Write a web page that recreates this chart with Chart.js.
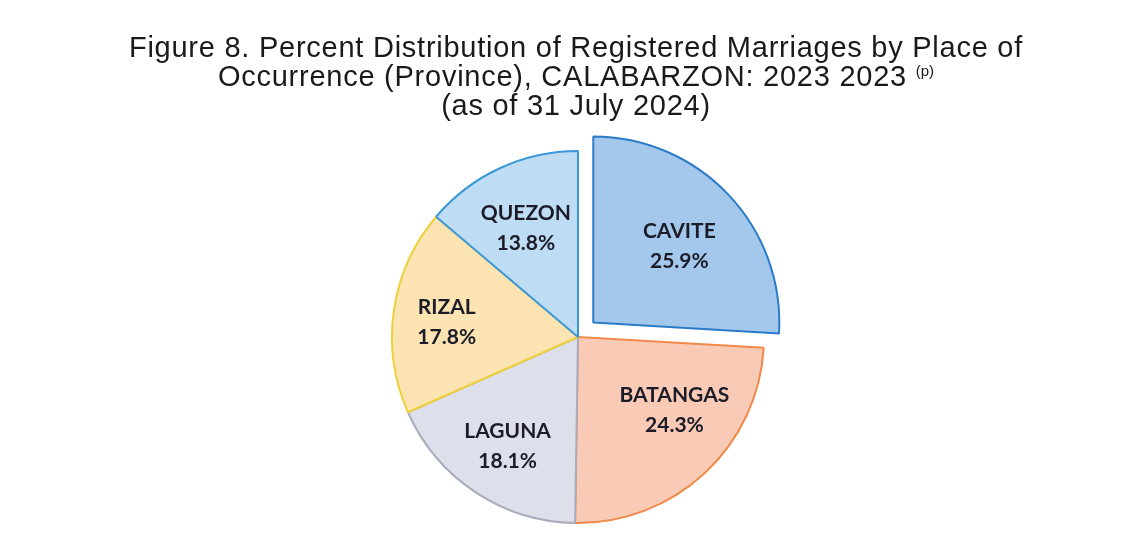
<!DOCTYPE html>
<html>
<head>
<meta charset="utf-8">
<script src="https://cdn.jsdelivr.net/npm/chart.js@4.4.1/dist/chart.umd.min.js"></script>
<style>
  body { margin: 0; background: #fff; }
  #wrap { position: relative; width: 1132px; height: 533px; }
  #titulo {
    position: absolute; left: 0; top: 33px; width: 1152px;
    text-align: center; font-family: "Liberation Sans", Arial, sans-serif;
    font-size: 29px; line-height: 29px; letter-spacing: 0.75px; color: #1a1a1a;
  }
  #titulo sup { font-size: 15px; vertical-align: 10px; line-height: 0; letter-spacing: 0; }
  canvas { position: absolute; left: 0; top: 0; }
</style>
</head>
<body>
<div id="wrap">
  <canvas id="grafico" width="1132" height="533"></canvas>
  <div id="titulo">
    Figure 8. Percent Distribution of Registered Marriages by Place of<br>
    Occurrence (Province), CALABARZON: 2023 2023 <sup>(p)</sup><br>
    (as of 31 July 2024)
  </div>
</div>
<script>
const provincias = ["CAVITE", "BATANGAS", "LAGUNA", "RIZAL", "QUEZON"];
const percentuais = [25.9, 24.3, 18.1, 17.8, 13.8];

const cores = ["#a3c8ec", "#f9cbb6", "#dde0ea", "#fbe3b2", "#bfdcf5"];
const bordas = ["#2a7bc8", "#f0894a", "#a9acbc", "#f0cf3c", "#3b98d8"];
const destaque = [21, 0, 0, 0, 0]; // deslocamento da fatia em px

// ajuste fino da posicao dos rotulos: [fracao do raio, desvio do angulo em graus]
const ajusteRotulo = [[0.62, 1.6], [0.65, -10], [0.70, -0.8], [0.71, -1.9], [0.65, -0.7]];

const rotulos = {
  id: "rotulos",
  afterDatasetsDraw(chart) {
    const ctx = chart.ctx;
    const meta = chart.getDatasetMeta(0);
    ctx.save();
    ctx.fillStyle = "#1c1c28";
    ctx.textAlign = "center";
    ctx.textBaseline = "middle";
    ctx.font = "bold 21px Lato, 'Open Sans', sans-serif";
    meta.data.forEach((arc, i) => {
      const p = arc.getProps(["x", "y", "startAngle", "endAngle", "outerRadius"], true);
      const [frac, desvio] = ajusteRotulo[i];
      const meio = (p.startAngle + p.endAngle) / 2;
      const ang = meio + desvio * Math.PI / 180;
      const cx = p.x + Math.cos(meio) * destaque[i];
      const cy = p.y + Math.sin(meio) * destaque[i];
      const x = cx + Math.cos(ang) * p.outerRadius * frac;
      const y = cy + Math.sin(ang) * p.outerRadius * frac;
      ctx.fillText(provincias[i], x, y - 15);
      ctx.fillText(percentuais[i].toFixed(1) + "%", x, y + 15);
    });
    ctx.restore();
  }
};

new Chart(document.getElementById("grafico"), {
  type: "pie",
  data: {
    labels: provincias,
    datasets: [{
      data: percentuais,
      backgroundColor: cores,
      borderColor: bordas,
      borderWidth: 2,
      offset: destaque.map(d => d * 4) // o Chart.js v4 desloca offset/4
    }]
  },
  options: {
    responsive: false,
    animation: false,
    radius: 186,
    layout: { padding: { top: 141, left: 24, right: 0, bottom: 0 } },
    plugins: {
      legend: { display: false },
      tooltip: { enabled: false }
    }
  },
  plugins: [rotulos]
});
</script>
</body>
</html>
